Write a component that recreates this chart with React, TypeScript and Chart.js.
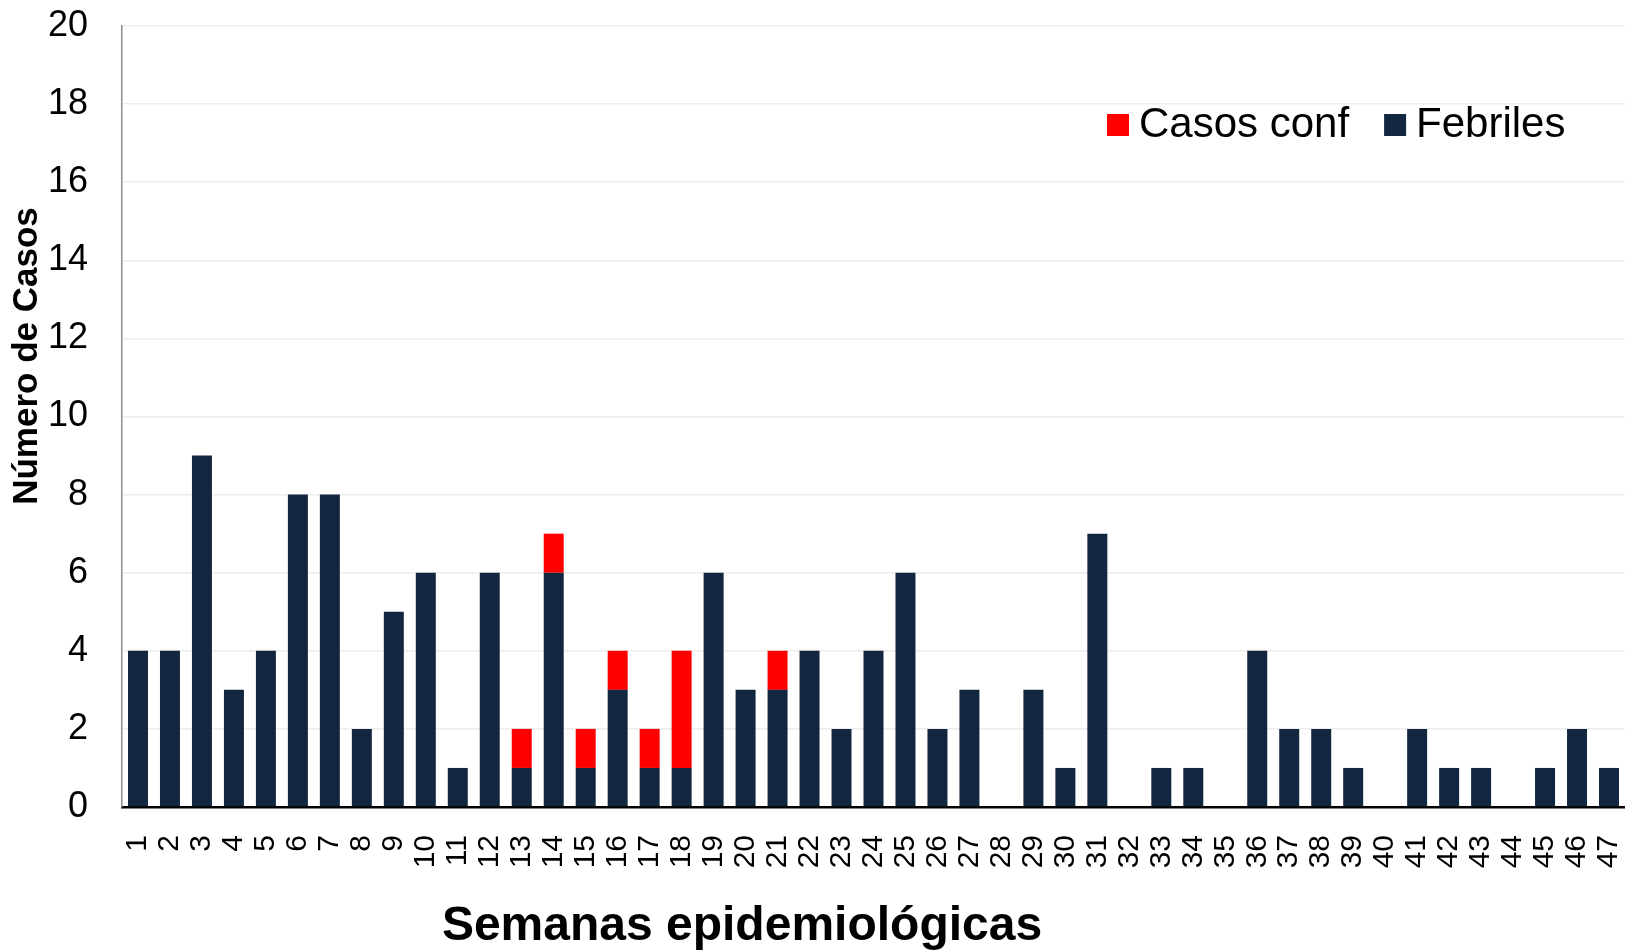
import React, { useEffect, useRef } from "react";
import { Chart, registerables } from "chart.js";

Chart.register(...registerables);

const weeks = [
  "1", "2", "3", "4", "5", "6", "7", "8", "9", "10",
  "11", "12", "13", "14", "15", "16", "17", "18", "19", "20",
  "21", "22", "23", "24", "25", "26", "27", "28", "29", "30",
  "31", "32", "33", "34", "35", "36", "37", "38", "39", "40",
  "41", "42", "43", "44", "45", "46", "47",
];

const febriles = [
  4, 4, 9, 3, 4, 8, 8, 2, 5, 6,
  1, 6, 1, 6, 1, 3, 1, 1, 6, 3,
  3, 4, 2, 4, 6, 2, 3, 0, 3, 1,
  7, 0, 1, 1, 0, 4, 2, 2, 1, 0,
  2, 1, 1, 0, 1, 2, 1,
];

const casosConf = [
  0, 0, 0, 0, 0, 0, 0, 0, 0, 0,
  0, 0, 1, 1, 1, 1, 1, 3, 0, 0,
  1, 0, 0, 0, 0, 0, 0, 0, 0, 0,
  0, 0, 0, 0, 0, 0, 0, 0, 0, 0,
  0, 0, 0, 0, 0, 0, 0,
];

const seriesNames = ["Febriles", "Casos conf"];
const legendOrder = [1, 0];
const yTitle = "Número de Casos";
const xTitle = "Semanas epidemiológicas";

const FONT = "'Liberation Sans', Arial, Helvetica, sans-serif";
const NAVY = "#13263F";
const RED = "#FF0000";

const textPlugin = {
  id: "customText",
  afterDraw(chart: any) {
    const ctx = chart.ctx as CanvasRenderingContext2D;
    ctx.save();
    ctx.fillStyle = "#000";

    // y-axis title
    ctx.font = `bold 35px ${FONT}`;
    ctx.textAlign = "center";
    ctx.textBaseline = "middle";
    ctx.save();
    ctx.translate(27, 356);
    ctx.rotate(-Math.PI / 2);
    ctx.fillText(yTitle, 0, 0);
    ctx.restore();

    // x-axis title
    ctx.font = `bold 48px ${FONT}`;
    ctx.textAlign = "center";
    ctx.textBaseline = "alphabetic";
    ctx.fillText(xTitle, 742, 940);

    // legend
    ctx.font = `42px ${FONT}`;
    ctx.textAlign = "left";
    ctx.textBaseline = "alphabetic";
    let x = 1107;
    const boxTop = 114;
    const box = 22;
    legendOrder.forEach((di) => {
      const ds = chart.data.datasets[di];
      ctx.fillStyle = ds.backgroundColor;
      ctx.fillRect(x, boxTop, box, box);
      ctx.fillStyle = "#000";
      const tx = x + box + 10;
      ctx.fillText(ds.label, tx, 137);
      x = tx + ctx.measureText(ds.label).width + 35;
    });
    ctx.restore();
  },
};

export default function App() {
  const ref = useRef<HTMLCanvasElement | null>(null);

  useEffect(() => {
    document.body.style.margin = "0";
    const canvas = ref.current;
    if (!canvas) return;
    const chart = new Chart(canvas, {
      type: "bar",
      data: {
        labels: weeks,
        datasets: [
          {
            label: seriesNames[0],
            data: febriles,
            backgroundColor: NAVY,
            borderWidth: 0,
            categoryPercentage: 1,
            barPercentage: 0.625,
          },
          {
            label: seriesNames[1],
            data: casosConf,
            backgroundColor: RED,
            borderWidth: 0,
            categoryPercentage: 1,
            barPercentage: 0.625,
          },
        ],
      },
      options: {
        responsive: false,
        animation: false,
        layout: { padding: { top: 26, left: 0, right: 0, bottom: 0 } },
        plugins: {
          legend: { display: false },
          tooltip: { enabled: false },
        },
        scales: {
          x: {
            stacked: true,
            grid: { display: false },
            border: { color: "#000", width: 2.5 },
            ticks: {
              color: "#000",
              font: { family: FONT, size: 30 },
              minRotation: 90,
              maxRotation: 90,
              autoSkip: false,
              padding: 20,
            },
            afterFit(s: any) {
              s.height = 143;
              s.paddingLeft = 0;
              s.paddingRight = 0;
            },
          },
          y: {
            stacked: true,
            min: 0,
            max: 20,
            grid: { color: "#EDEDED", lineWidth: 1.5, drawTicks: false },
            border: { color: "#8C8C8C", width: 1.5 },
            ticks: {
              stepSize: 2,
              color: "#000",
              font: { family: FONT, size: 36 },
              padding: 34,
            },
            afterFit(s: any) {
              s.width = 122;
              s.paddingTop = 0;
              s.paddingBottom = 0;
            },
          },
        },
      },
      plugins: [textPlugin],
    });
    return () => chart.destroy();
  }, []);

  return (
    <div style={{ width: 1625, height: 950, background: "#fff" }}>
      <canvas ref={ref} width={1625} height={950} style={{ display: "block" }} />
    </div>
  );
}
